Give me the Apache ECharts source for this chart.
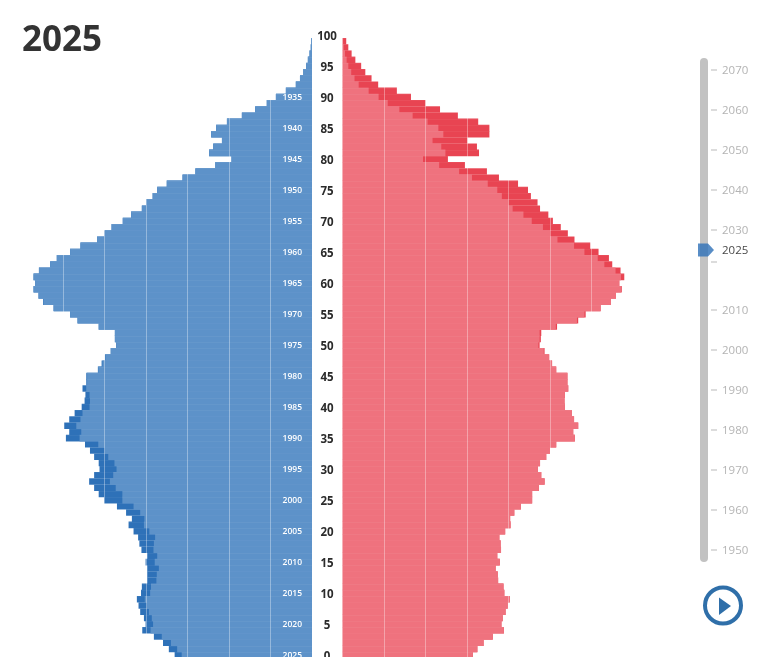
<!DOCTYPE html>
<html><head><meta charset="utf-8">
<style>html,body{margin:0;padding:0;background:#fff;overflow:hidden}#c{width:762px;height:657px}</style>
<script src="https://cdn.jsdelivr.net/npm/echarts@6/dist/echarts.min.js"></script>
</head><body><div id="c"></div>
<script>
// Population in thousands, index = age 0..100
const ages = Array.from({length:101},(_,i)=>String(i));
const male = [331,345,359,381,409,401,405,414,418,422,412,410,397,397,397,401,397,411,416,419,
430,442,434,448,470,501,514,525,537,525,512,514,525,535,547,593,585,597,585,572,
555,548,546,553,544,544,516,507,499,485,472,475,475,514,565,583,623,648,659,671,
667,671,658,631,615,583,558,518,500,483,456,436,410,400,384,373,350,312,281,233,
194,248,238,217,243,231,205,169,137,109,87,63,39,29,21,14,10,6,3,1.5,0];
const female = [314,325,340,362,389,383,386,393,398,403,390,388,375,374,369,379,373,382,381,378,
392,405,404,414,430,457,457,473,487,479,471,476,491,500,515,560,556,568,558,553,
536,535,536,544,542,542,515,505,498,487,475,478,479,517,568,586,622,647,659,673,
667,679,670,650,642,617,597,559,543,526,507,496,476,470,454,447,423,377,348,295,
254,329,324,301,354,354,327,278,235,200,165,131,86,70,55,45,31,22,14,9,0];
const ageTicks = {0:2025,5:2020,10:2015,15:2010,20:2005,25:2000,30:1995,35:1990,40:1985,45:1980,50:1975,55:1970,60:1965,65:1960,70:1955,75:1950,80:1945,85:1940,90:1935};
const sliderTicks = [2070,2060,2050,2040,2030,2022,2010,2000,1990,1980,1970,1960,1950];
const sliderLabels = [2070,2060,2050,2040,2030,2010,2000,1990,1980,1970,1960,1950];
const currentYear = 2025;
const titleText = '2025';

const shared = male.map((m,i)=>Math.min(m,female[i]));
const font = '"Open Sans", sans-serif';
const C = {mDark:'#2e71b8', mLight:'#5d92c9', fDark:'#e84452', fLight:'#ef727e'};

function valueAxis(gridIndex,inverse){
  return {type:'value',gridIndex,inverse,min:0,max:750,interval:100,z:5,
    axisLine:{show:false},axisTick:{show:false},axisLabel:{show:false},
    splitLine:{show:true,lineStyle:{color:'rgba(255,255,255,0.35)',width:1}}};
}
function bar(name,xi,data,color,z){
  return {name,type:'bar',xAxisIndex:xi,yAxisIndex:xi,data,barWidth:6.6,barGap:'-100%',z,
    itemStyle:{color},silent:true,animation:false};
}
const option = {
  animation:false,
  title:{text:titleText,left:17,top:19,textStyle:{fontFamily:font,fontWeight:'bold',fontSize:35,color:'#333'}},
  grid:[
    {left:0.75,top:32,width:311.25,height:626.2,outerBoundsMode:'none'},
    {left:342.5,top:32,width:311.25,height:626.2,outerBoundsMode:'none'},
    {left:704,top:62,width:40,height:496,outerBoundsMode:'none'}
  ],
  xAxis:[valueAxis(0,true),valueAxis(1,false),
    {type:'value',gridIndex:2,min:0,max:40,show:false}],
  yAxis:[
    {type:'category',gridIndex:0,data:ages,position:'right',z:6,
      axisLine:{show:false},axisTick:{show:false},
      splitLine:{show:true,interval:0,lineStyle:{color:'rgba(255,255,255,0.05)'}},
      axisLabel:{inside:true,interval:4,margin:10,color:'#fff',fontFamily:font,fontWeight:600,fontSize:8.5,
        formatter:v=>ageTicks[v]===undefined?'':String(ageTicks[v])}},
    {type:'category',gridIndex:1,data:ages,position:'left',z:6,
      axisLine:{show:false},axisTick:{show:false},
      splitLine:{show:true,interval:0,lineStyle:{color:'rgba(255,255,255,0.05)'}},
      axisLabel:{interval:4,margin:15.5,align:'center',formatter:v=>`{a|${v}}`,
        rich:{a:{padding:[3,0,0,0],color:'#2b2b2b',fontFamily:font,fontWeight:'bold',fontSize:11.5}}}},
    {type:'value',gridIndex:2,min:1948,max:2072,position:'left',z:1,
      axisLine:{show:true,onZero:false,lineStyle:{color:'#c2c2c2',width:8,cap:'round'}},
      axisTick:{show:false},axisLabel:{show:false},splitLine:{show:false}}
  ],
  series:[
    bar('Men',0,male,C.mDark,2),
    bar('Men shared',0,shared,C.mLight,3),
    bar('Women',1,female,C.fDark,2),
    bar('Women shared',1,shared,C.fLight,3),
    {type:'scatter',xAxisIndex:2,yAxisIndex:2,symbol:'rect',symbolSize:[6,1],silent:true,
      itemStyle:{color:'#a8a8a8'},
      data:sliderTicks.map(y=>({value:[10,y],label:{show:sliderLabels.includes(y)}})),
      label:{position:'right',distance:5,offset:[0,1],color:'#a0a0a0',fontFamily:font,fontSize:11.5,
        formatter:p=>String(p.value[1])}},
    {type:'scatter',xAxisIndex:2,yAxisIndex:2,symbol:'path://M0 0H10L16 6.5L10 13H0Z',symbolSize:[16,13],silent:true,z:5,
      itemStyle:{color:'#2e71b8'},
      data:[[2,currentYear]],
      label:{show:true,position:'right',distance:8,offset:[0,1],color:'#111',fontFamily:font,fontSize:11.5,
        formatter:p=>String(p.value[1])}}
  ],
  graphic:[
    {type:'circle',shape:{cx:723,cy:605.5,r:18},style:{fill:'#fff',stroke:'#2f6fa9',lineWidth:4}},
    {type:'polygon',shape:{points:[[719,597.5],[731,606],[719,615]]},style:{fill:'#2f6fa9'}}
  ]
};
const chart = echarts.init(document.getElementById('c'),null,{renderer:'canvas'});
chart.setOption(option);
</script></body></html>
